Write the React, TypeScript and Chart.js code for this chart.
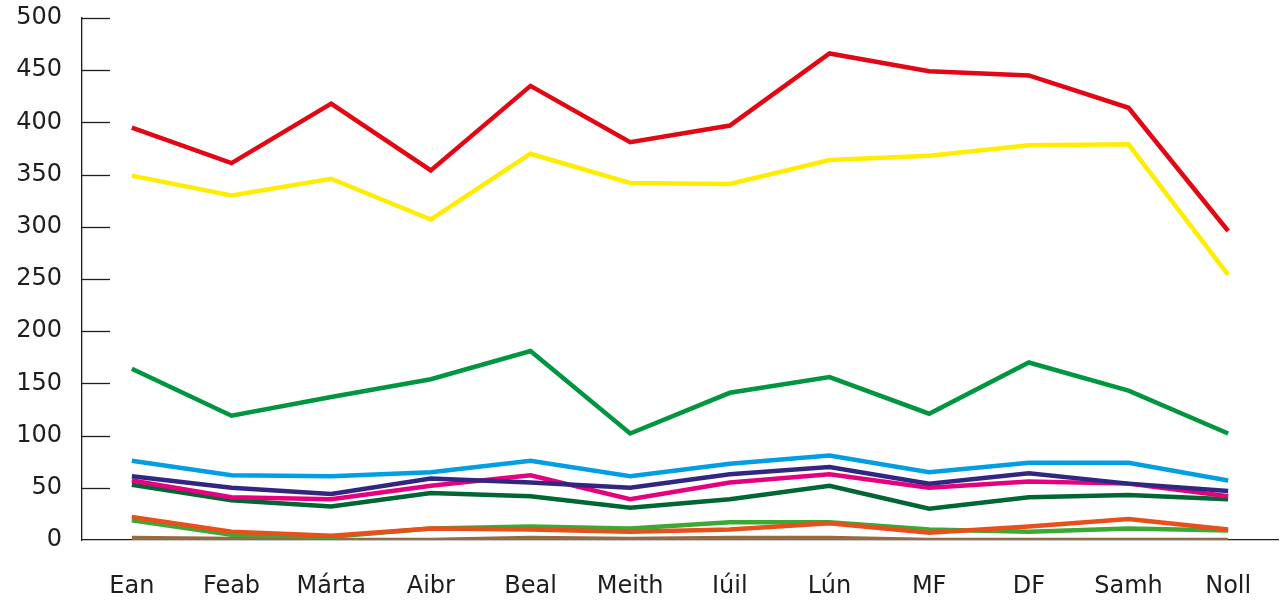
import React, { useEffect, useRef } from "react";
import { Chart, registerables } from "chart.js";

Chart.register(...registerables);

const months = ["Ean", "Feab", "Márta", "Aibr", "Beal", "Meith", "Iúil", "Lún", "MF", "DF", "Samh", "Noll"];
const yTicks = [0, 50, 100, 150, 200, 250, 300, 350, 400, 450, 500];

const redSeries = [395, 361, 418, 354, 435, 381, 397, 466, 449, 445, 414, 296];
const yellowSeries = [349, 330, 346, 307, 370, 342, 341, 364, 368, 378, 379, 254];
const greenSeries = [164, 119, 137, 154, 181, 102, 141, 156, 121, 170, 143, 102];
const blueSeries = [76, 62, 61, 65, 76, 61, 73, 81, 65, 74, 74, 57];
const purpleSeries = [61, 50, 44, 59, 55, 50, 63, 70, 54, 64, 54, 47];
const pinkSeries = [57, 41, 39, 52, 62, 39, 55, 63, 50, 56, 54, 42];
const darkGreenSeries = [53, 38, 32, 45, 42, 31, 39, 52, 30, 41, 43, 39];
const orangeSeries = [22, 8, 4, 11, 10, 8, 10, 16, 7, 13, 20, 10];
const lightGreenSeries = [19, 5, 3, 11, 13, 11, 17, 17, 10, 8, 11, 9];
const brownSeries = [2, 1, 0, 0, 2, 1, 2, 2, 0, 0, 0, 0];

const seriesList = [
  { data: orangeSeries, color: "#e94e1b" },
  { data: lightGreenSeries, color: "#3aaa35" },
  { data: brownSeries, color: "#956b43" },
  { data: redSeries, color: "#e30613" },
  { data: yellowSeries, color: "#ffed00" },
  { data: greenSeries, color: "#009640" },
  { data: blueSeries, color: "#009fe3" },
  { data: purpleSeries, color: "#312783" },
  { data: pinkSeries, color: "#e6007e" },
  { data: darkGreenSeries, color: "#006633" },
];

const innerTicks = {
  id: "innerTicks",
  afterDraw(chart: any) {
    const { ctx, chartArea } = chart;
    const y = chart.scales.y;
    ctx.save();
    ctx.strokeStyle = "#1d1d1b";
    ctx.lineWidth = 1.3;
    y.ticks.forEach((t: any) => {
      if (t.value === 0) return;
      const py = Math.round(y.getPixelForValue(t.value)) + 0.5;
      ctx.beginPath();
      ctx.moveTo(chartArea.left, py);
      ctx.lineTo(chartArea.left + 28, py);
      ctx.stroke();
    });
    ctx.restore();
  },
};

export default function App() {
  const ref = useRef<HTMLCanvasElement>(null);
  useEffect(() => {
    if (!ref.current) return;
    const font = { family: "'DejaVu Sans', sans-serif", size: 24 };
    const chart = new Chart(ref.current, {
      type: "line",
      data: {
        labels: months,
        datasets: seriesList.map((s) => ({
          data: s.data,
          borderColor: s.color,
          backgroundColor: s.color,
          borderWidth: 4.5,
          pointRadius: 0,
          tension: 0,
          fill: false,
        })),
      },
      options: {
        animation: false,
        responsive: true,
        maintainAspectRatio: false,
        layout: { padding: { top: 18, right: 3, left: 0, bottom: 0 } },
        plugins: { legend: { display: false }, tooltip: { enabled: false } },
        scales: {
          x: {
            offset: true,
            grid: { display: false },
            border: { display: true, color: "#1d1d1b", width: 1.3 },
            ticks: { color: "#1d1d1b", font, padding: 24, maxRotation: 0, autoSkip: false },
            afterFit: (s: any) => { s.height = 64; },
          },
          y: {
            min: 0,
            max: 500,
            afterBuildTicks: (s: any) => { s.ticks = yTicks.map((v) => ({ value: v })); },
            grid: { drawOnChartArea: false, drawTicks: false },
            border: { display: true, color: "#1d1d1b", width: 1.3 },
            ticks: { color: "#1d1d1b", font, padding: 20 },
            afterFit: (s: any) => { s.width = 82; s.paddingTop = 0; s.paddingBottom = 0; },
          },
        },
      },
      plugins: [innerTicks],
    });
    return () => chart.destroy();
  }, []);
  return (
    <div style={{ position: "absolute", left: 0, top: 0, width: 1281, height: 604, background: "#fff" }}>
      <canvas ref={ref} />
    </div>
  );
}
